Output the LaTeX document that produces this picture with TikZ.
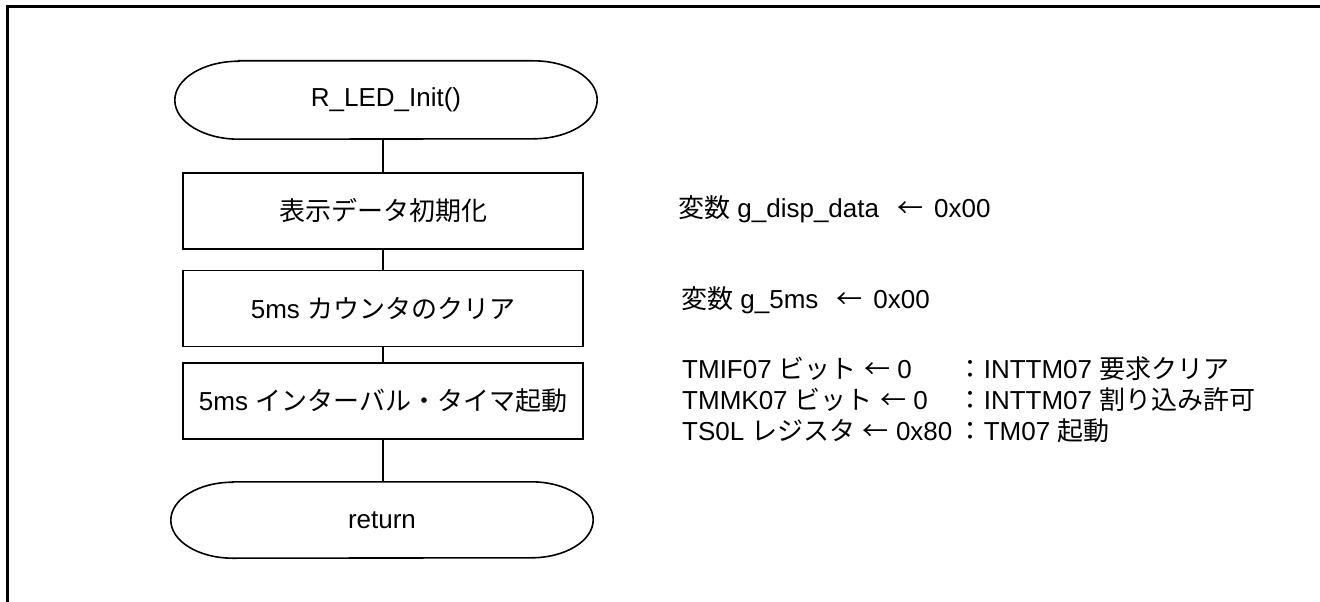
\documentclass[tikz,border=0pt]{standalone}
\usepackage{fontspec}
\setmainfont{Liberation Sans}
\newfontfamily\jpf{Noto Sans CJK JP}
\usetikzlibrary{calc}
\begin{document}
\begin{tikzpicture}[x=1pt,y=1pt,
  txt/.style={font=\fontsize{26}{28}\selectfont, inner sep=0pt},
  procbox/.style={txt, draw, line width=1.6pt, minimum width=400pt, minimum height=76pt},
  termnode/.style={txt, minimum width=422pt},
  outline/.style={line width=1.6pt},
  conn/.style={line width=1.2pt},
  note/.style={txt, anchor=base west},
  frameline/.style={line width=3pt}]
\useasboundingbox (0,0) rectangle (1320,-602);
\draw[frameline] (1320,-7) -- (7,-7) -- (7,-602);

% flow nodes
\node[termnode, minimum height=78pt] (start) at (386,-100) {R\_LED\_Init()};
\node[procbox] (b1) at (383,-211) {\jpf 表示データ初期化};
\node[procbox] (b2) at (383,-308.5) {5ms {\jpf カウンタのクリア}};
\node[procbox] (b3) at (383,-401) {5ms {\jpf インターバル・タイマ起動}};
\node[termnode, minimum height=76pt] (ret) at (382,-520) {return};

% terminal outlines
\draw[outline] ($(start.north west)+(64,0)$) -- ($(start.north east)+(-64,0)$)
  arc[start angle=90, end angle=-90, x radius=64, y radius=39]
  -- ($(start.south west)+(64,0)$)
  arc[start angle=270, end angle=90, x radius=64, y radius=39] -- cycle;
\draw[outline] ($(ret.north west)+(62,0)$) -- ($(ret.north east)+(-62,0)$)
  arc[start angle=90, end angle=-90, x radius=62, y radius=38]
  -- ($(ret.south west)+(62,0)$)
  arc[start angle=270, end angle=90, x radius=62, y radius=38] -- cycle;

% connectors
\draw[conn] (b1.north |- start.south) -- (b1.north);
\draw[conn] (b1.south) -- (b2.north);
\draw[conn] (b2.south) -- (b3.north);
\draw[conn] (b3.south) -- (b3.south |- ret.north);

% notes
\node[note] (n1) at (678,-217) {{\jpf 変数} g\_disp\_data\hspace{18pt}{\jpf ←}\hspace{11pt}0x00};
\node[note] (n2) at (681,-308) {{\jpf 変数} g\_5ms\hspace{18pt}{\jpf ←}\hspace{11pt}0x00};
\node[note] (n3) at (682,-378) {TMIF07 {\jpf ビット} {\jpf ←} 0};
\node[note] (n4) at (682,-409) {TMMK07 {\jpf ビット} {\jpf ←} 0};
\node[note] (n5) at (682,-440) {TS0L {\jpf レジスタ} {\jpf ←} 0x80};
\node[note] (c3) at ($(n5.base east |- n3.base)+(5,0)$) {{\jpf ：}INTTM07 {\jpf 要求クリア}};
\node[note] (c4) at (c3.base west |- n4.base) {{\jpf ：}INTTM07 {\jpf 割り込み許可}};
\node[note] (c5) at (c3.base west |- n5.base) {{\jpf ：}TM07 {\jpf 起動}};
\end{tikzpicture}
\end{document}
